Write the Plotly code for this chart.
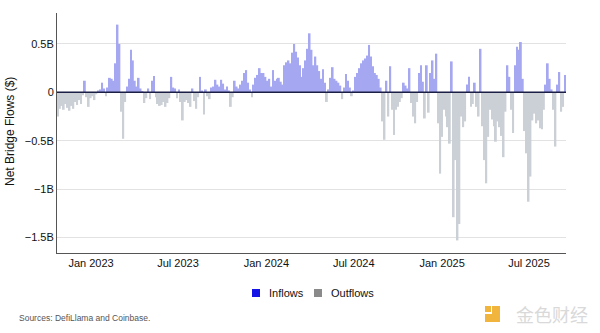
import pandas as pd
import plotly.graph_objects as go

# Net bridge flows, billions of USD, one value per 4-day period
period_start = "2022-10-24"
period_step = "4D"

net_flows_bn = [
    # Oct 2022 - May 2023
    -0.25, -0.17, -0.14, -0.18, -0.12, -0.16, -0.19, -0.14, -0.17, -0.10,
    -0.13, -0.08, -0.12, -0.03, 0.12, -0.05, -0.15, -0.06, -0.04, -0.08,
    -0.02, 0.02, 0.03, 0.10, 0.04, -0.04, 0.05, 0.15, 0.14, 0.12,
    0.30, 0.70, 0.50, -0.20, -0.48, -0.10, 0.06, 0.14, 0.44, 0.33,
    0.12, 0.06, 0.15, 0.04, 0.01, -0.11, -0.06, 0.04, -0.07, 0.12,
    0.17, -0.05, -0.12, -0.14,
    # May 2023 - Dec 2023
    -0.13, -0.10, -0.15, -0.11, -0.06, 0.16, 0.05, 0.04, -0.06, 0.03,
    -0.10, -0.29, -0.10, -0.08, -0.11, -0.15, 0.04, -0.09, -0.17, -0.05,
    0.16, 0.02, -0.23, 0.03, -0.04, -0.07, 0.05, 0.06, 0.13, 0.08,
    0.06, 0.13, 0.09, 0.03, 0.06, 0.02, -0.15, -0.05, 0.12, 0.06,
    0.04, 0.08, 0.12, 0.20, 0.23, 0.10, 0.03, -0.05, 0.08, 0.15,
    0.18, 0.25, 0.20,
    # Dec 2023 - Aug 2024
    0.20, 0.16, 0.12, 0.14, 0.06, 0.23, 0.12, 0.14, 0.15, 0.11,
    0.08, 0.28, 0.31, 0.33, 0.30, 0.41, 0.50, 0.42, 0.36, 0.28,
    0.16, 0.25, 0.33, 0.45, 0.61, 0.44, 0.28, 0.37, 0.28, 0.22,
    0.14, 0.24, 0.10, -0.10, 0.03, 0.15, 0.26, 0.14, 0.12, 0.10,
    0.07, -0.07, 0.05, 0.19, 0.12, 0.05, -0.04, 0.02, 0.16, 0.20,
    0.25, 0.30, 0.33,
    # Aug 2024 - Mar 2025
    0.35, 0.38, 0.49, 0.37, 0.27, 0.20, 0.18, 0.14, 0.05, -0.30,
    -0.49, 0.12, -0.25, 0.27, -0.18, -0.44, -0.18, -0.15, -0.10, -0.06,
    0.10, 0.07, 0.04, 0.25, -0.11, -0.25, -0.32, -0.10, 0.20, 0.28,
    0.11, -0.27, 0.28, -0.21, 0.20, 0.33, 0.14, 0.40, -0.32, -0.84,
    -0.46, -0.18, -0.25, -0.36, -0.53, 0.32, -1.29, -0.70, -1.53, -1.36,
    -0.25, -0.36, -0.30, 0.08,
    # Mar 2025 - Sep 2025
    0.16, -0.15, -0.12, 0.10, -0.15, -0.25, 0.45, -0.35, -0.70, -0.94,
    -0.46, -0.18, -0.28, -0.35, -0.51, -0.30, -0.36, -0.45, -0.67, -0.20,
    0.28, 0.16, -0.18, -0.42, 0.28, 0.47, 0.44, 0.52, 0.14, -0.40,
    -0.63, -1.13, -0.87, -0.29, -0.22, -0.32, -0.29, -0.37, -0.38, -0.18,
    0.08, 0.30, 0.14, 0.03, -0.18, -0.56, 0.08, 0.21, -0.20, -0.15,
    0.18,
]

y_tick_values = [0.5, 0, -0.5, -1, -1.5]
y_tick_labels = ["0.5B", "0", "\u22120.5B", "\u22121B", "\u22121.5B"]
x_tick_dates = ["2023-01-01", "2023-07-01", "2024-01-01", "2024-07-01", "2025-01-01", "2025-07-01"]
x_tick_labels = ["Jan 2023", "Jul 2023", "Jan 2024", "Jul 2024", "Jan 2025", "Jul 2025"]
series_names = ["Inflows", "Outflows"]

periods = pd.date_range(period_start, periods=len(net_flows_bn), freq=period_step)
inflows = [v if v > 0 else None for v in net_flows_bn]
outflows = [v if v < 0 else None for v in net_flows_bn]

FONT = "Liberation Sans, Arial, sans-serif"
IN_BAR, OUT_BAR = "#a5a7f1", "#cbcfd6"
IN_KEY, OUT_KEY = "#1414e6", "#8a8a8a"

fig = go.Figure()
fig.add_trace(go.Bar(x=periods, y=inflows, name=series_names[0],
                     marker=dict(color=IN_BAR, line=dict(width=0)), hoverinfo="skip"))
fig.add_trace(go.Bar(x=periods, y=outflows, name=series_names[1],
                     marker=dict(color=OUT_BAR, line=dict(width=0)), hoverinfo="skip"))

# plot area in pixels: x 57..566, y 13..253
def px_x(p):
    return (p - 57) / 509.0

def px_y(p):
    return (253 - p) / 240.0

# legend drawn as keys + labels below the plot
legend_shapes = []
legend_notes = []
for name, key_color, key_left in zip(series_names, [IN_KEY, OUT_KEY], [252, 314]):
    legend_shapes.append(dict(type="rect", xref="paper", yref="paper",
                              x0=px_x(key_left), x1=px_x(key_left + 8),
                              y0=px_y(297), y1=px_y(289),
                              fillcolor=key_color, line=dict(width=0)))
    legend_notes.append(dict(text=name, xref="paper", yref="paper",
                             x=px_x(key_left + 15), y=px_y(293),
                             xanchor="left", yanchor="middle", showarrow=False,
                             font=dict(size=11, color="#111")))

fig.update_layout(
    width=600, height=333,
    margin=dict(l=57, r=34, t=13, b=80),
    paper_bgcolor="white", plot_bgcolor="white",
    barmode="relative", bargap=0.04,
    font=dict(family=FONT, size=11, color="#111"),
    showlegend=False,
    xaxis=dict(type="date", range=["2022-10-22", "2025-09-16"],
               tickvals=x_tick_dates, ticktext=x_tick_labels,
               showgrid=False, zeroline=False, showline=True, linecolor="#555", linewidth=1,
               ticks="", tickfont=dict(size=11, color="#111")),
    yaxis=dict(range=[-1.66, 0.82], tickvals=y_tick_values, ticktext=y_tick_labels,
               showgrid=True, gridcolor="#e2e2e2", gridwidth=1,
               zeroline=False, showline=True, linecolor="#555", linewidth=1,
               ticks="", tickfont=dict(size=11, color="#111")),
    shapes=[dict(type="line", xref="paper", yref="y", x0=0, x1=1, y0=0, y1=0,
                 line=dict(color="#1c1f45", width=1.5), layer="above")] + legend_shapes + [
        # watermark logo
        dict(type="rect", xref="paper", yref="paper",
             x0=px_x(485), x1=px_x(491), y0=px_y(312), y1=px_y(306),
             fillcolor="#f1b43c", line=dict(width=0)),
        dict(type="rect", xref="paper", yref="paper",
             x0=px_x(492), x1=px_x(500), y0=px_y(322), y1=px_y(306),
             fillcolor="#f1b43c", line=dict(width=0)),
        dict(type="rect", xref="paper", yref="paper",
             x0=px_x(485), x1=px_x(500), y0=px_y(322), y1=px_y(314),
             fillcolor="#f1b43c", line=dict(width=0)),
    ],
    annotations=[
        dict(text="Net Bridge Flows ($)", xref="paper", yref="paper", x=px_x(10), y=px_y(132),
             xanchor="center", yanchor="middle", textangle=-90, showarrow=False,
             font=dict(size=12, color="#111")),
        dict(text="Sources: DefiLlama and Coinbase.", xref="paper", yref="paper",
             x=px_x(17), y=px_y(318), xanchor="left", yanchor="middle", showarrow=False,
             font=dict(size=8.5, color="#555")),
        dict(text="\u91d1\u8272\u8d22\u7ecf", xref="paper", yref="paper", x=px_x(590), y=px_y(314),
             xanchor="right", yanchor="middle", showarrow=False,
             font=dict(family="Noto Sans CJK SC", size=18, color="#d9d9d9")),
    ] + legend_notes,
)

fig.write_html("out.html")
